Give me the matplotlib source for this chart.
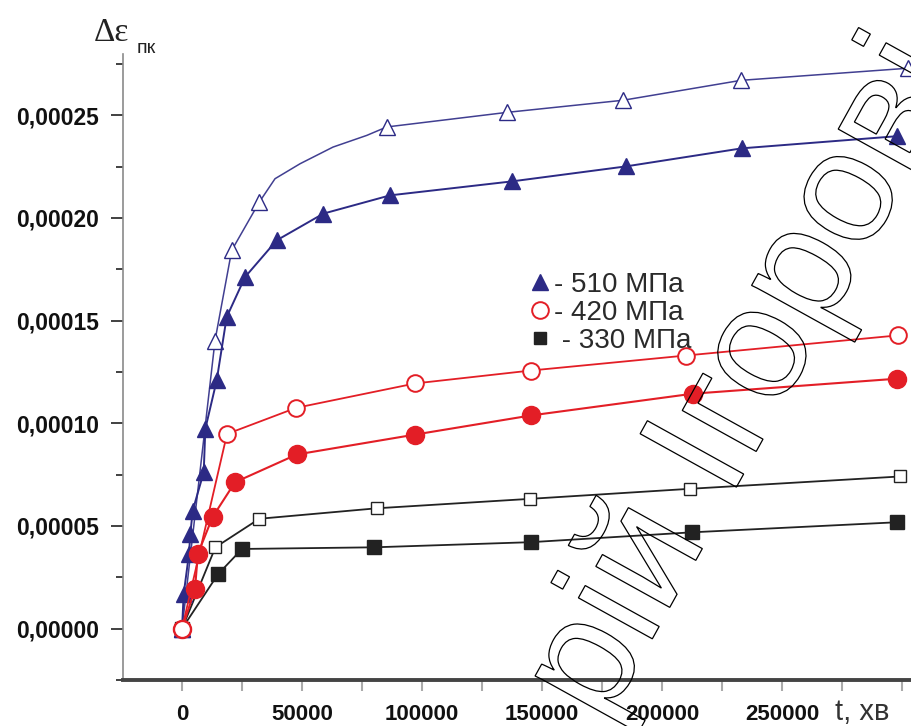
import matplotlib
matplotlib.use("Agg")
import matplotlib.pyplot as plt
from matplotlib.ticker import MultipleLocator, FuncFormatter
from matplotlib.lines import Line2D
from matplotlib.textpath import TextPath
from matplotlib.patches import PathPatch
from matplotlib.font_manager import FontProperties
from matplotlib.transforms import Affine2D

# 510 MPa, filled triangles
t_510 = [0, 700, 2900, 3460, 4460, 9040, 9710, 14450, 18600, 26250, 39450, 58900, 86700, 137500, 185000, 233300, 297900]
e_510 = [0, 1.69e-5, 3.64e-5, 4.61e-5, 5.75e-5, 7.62e-5, 9.73e-5, 1.209e-4, 1.517e-4, 1.712e-4,
         1.891e-4, 2.021e-4, 2.110e-4, 2.178e-4, 2.251e-4, 2.339e-4, 2.398e-4]

# 510 MPa, open triangles
t_510o = [0, 13750, 20700, 32200, 85300, 135400, 183750, 232900, 302500]
e_510o = [0, 1.403e-4, 1.842e-4, 2.077e-4, 2.443e-4, 2.514e-4, 2.573e-4, 2.670e-4, 2.729e-4]
# bend of the open-triangle curve (no markers there)
bend_t = [38750, 49200, 62900, 77000]
bend_e = [2.191e-4, 2.264e-4, 2.345e-4, 2.402e-4]

# 420 MPa, filled circles
t_420 = [0, 5400, 6600, 12750, 22100, 47800, 97100, 145300, 212800, 297800]
e_420 = [0, 1.93e-5, 3.64e-5, 5.44e-5, 7.13e-5, 8.48e-5, 9.45e-5, 1.038e-4, 1.144e-4, 1.217e-4]

# 420 MPa, open circles
t_420o = [0, 18750, 47500, 97100, 145400, 210000, 298300]
e_420o = [0, 9.48e-5, 1.075e-4, 1.194e-4, 1.257e-4, 1.330e-4, 1.428e-4]

# 330 MPa, filled squares
t_330 = [0, 15000, 25000, 80000, 145300, 212400, 297800]
e_330 = [0, 2.65e-5, 3.88e-5, 3.96e-5, 4.21e-5, 4.69e-5, 5.18e-5]

# 330 MPa, open squares
t_330o = [0, 13900, 32200, 81100, 145000, 211700, 299200]
e_330o = [0, 3.96e-5, 5.35e-5, 5.86e-5, 6.32e-5, 6.81e-5, 7.41e-5]

legend_labels = ["- 510 МПа", "- 420 МПа", " - 330 МПа"]

blue = "#2c2a85"
red = "#e31e26"
dark = "#222222"

fig = plt.figure(figsize=(9.11, 7.26), dpi=100)
ax = fig.add_axes([0.135, 0.0634, 0.865, 0.8627])

# 330 MPa
ax.plot(t_330o, e_330o, color=dark, lw=1.3, marker="s", ms=9, mfc="white", mec=dark, mew=1.0)
ax.plot(t_330, e_330, color=dark, lw=1.3, marker="s", ms=10, mfc=dark, mec=dark)

# 510 MPa
line_t = sorted(t_510o + bend_t)
line_e = [e for _, e in sorted(zip(t_510o + bend_t, e_510o + bend_e))]
ax.plot(line_t, line_e, color=blue, lw=1.1, alpha=0.9)
ax.plot(t_510o, e_510o, ls="none", marker="^", ms=12, mfc="white", mec=blue, mew=1.0)
ax.plot(t_510, e_510, color=blue, lw=1.4, marker="^", ms=12, mfc=blue, mec=blue)

# 420 MPa
ax.plot(t_420, e_420, color=red, lw=1.5, marker="o", ms=13, mfc=red, mec=red)
ax.plot(t_420o, e_420o, color=red, lw=1.3, marker="o", ms=12, mfc="white", mec=red, mew=1.4)

ax.set_xlim(-24600, 303750)
ax.set_ylim(-0.000025, 0.00028)

for s in ["top", "right"]:
    ax.spines[s].set_visible(False)
ax.spines["left"].set_color("#8a8a8a")
ax.spines["left"].set_linewidth(1.2)
ax.spines["bottom"].set_color("#444444")
ax.spines["bottom"].set_linewidth(2.8)

ax.xaxis.set_major_locator(MultipleLocator(50000))
ax.xaxis.set_minor_locator(MultipleLocator(25000))
ax.yaxis.set_major_locator(MultipleLocator(0.00005))
ax.yaxis.set_minor_locator(MultipleLocator(0.000025))

ax.xaxis.set_major_formatter(FuncFormatter(lambda v, p: "%d" % v if 0 <= v <= 250000 else ""))
ax.yaxis.set_major_formatter(FuncFormatter(lambda v, p: ("%.5f" % v).replace(".", ",") if v >= -1e-9 else ""))

ax.tick_params(axis="y", which="major", length=9, width=1.3, color="#333333", pad=8,
               labelsize=16.5, labelcolor="#111111")
ax.tick_params(axis="y", which="minor", length=5, width=1.3, color="#333333")
ax.tick_params(axis="x", which="both", length=8, width=1.5, color="#aaaaaa", pad=9,
               labelsize=16, labelcolor="#111111")
for lab in ax.get_xticklabels() + ax.get_yticklabels():
    lab.set_fontfamily("Liberation Sans")
    lab.set_fontweight("bold")

# axis titles
fig.text(94 / 911, 1 - 41 / 726, "Δε", fontsize=24, family="Liberation Serif", color="#222222")
fig.text(137 / 911, 1 - 53 / 726, "пк", fontsize=14, family="Liberation Sans", color="#222222")
ax.text(0.938, -0.051, "t, хв", transform=ax.transAxes, fontsize=21, family="Liberation Sans",
        color="#333333", va="center", ha="center")

# legend
handles = [
    Line2D([], [], ls="none", marker="^", ms=12, mfc=blue, mec=blue),
    Line2D([], [], ls="none", marker="o", ms=12, mfc="white", mec=red, mew=1.4),
    Line2D([], [], ls="none", marker="s", ms=9, mfc=dark, mec=dark),
]
leg = ax.legend(handles, legend_labels, loc="upper left", bbox_to_anchor=(0.515, 0.652),
                frameon=False, handlelength=0.8, handletextpad=0.1, labelspacing=0.08,
                borderpad=0, borderaxespad=0, prop=FontProperties(family="Liberation Sans", size=20))
for txt in leg.get_texts():
    txt.set_color("#2a2a2a")

# outlined watermark
wm = TextPath((0, 0), "рій Ігорові", size=1, prop=FontProperties(family="Liberation Sans"))
tr = Affine2D().scale(1.6).rotate_deg(61).translate(6.04, 0.0) + fig.dpi_scale_trans
fig.add_artist(PathPatch(wm, transform=tr, fc="none", ec="black", lw=0.9, zorder=10))

fig.savefig("out.png", dpi=100)
